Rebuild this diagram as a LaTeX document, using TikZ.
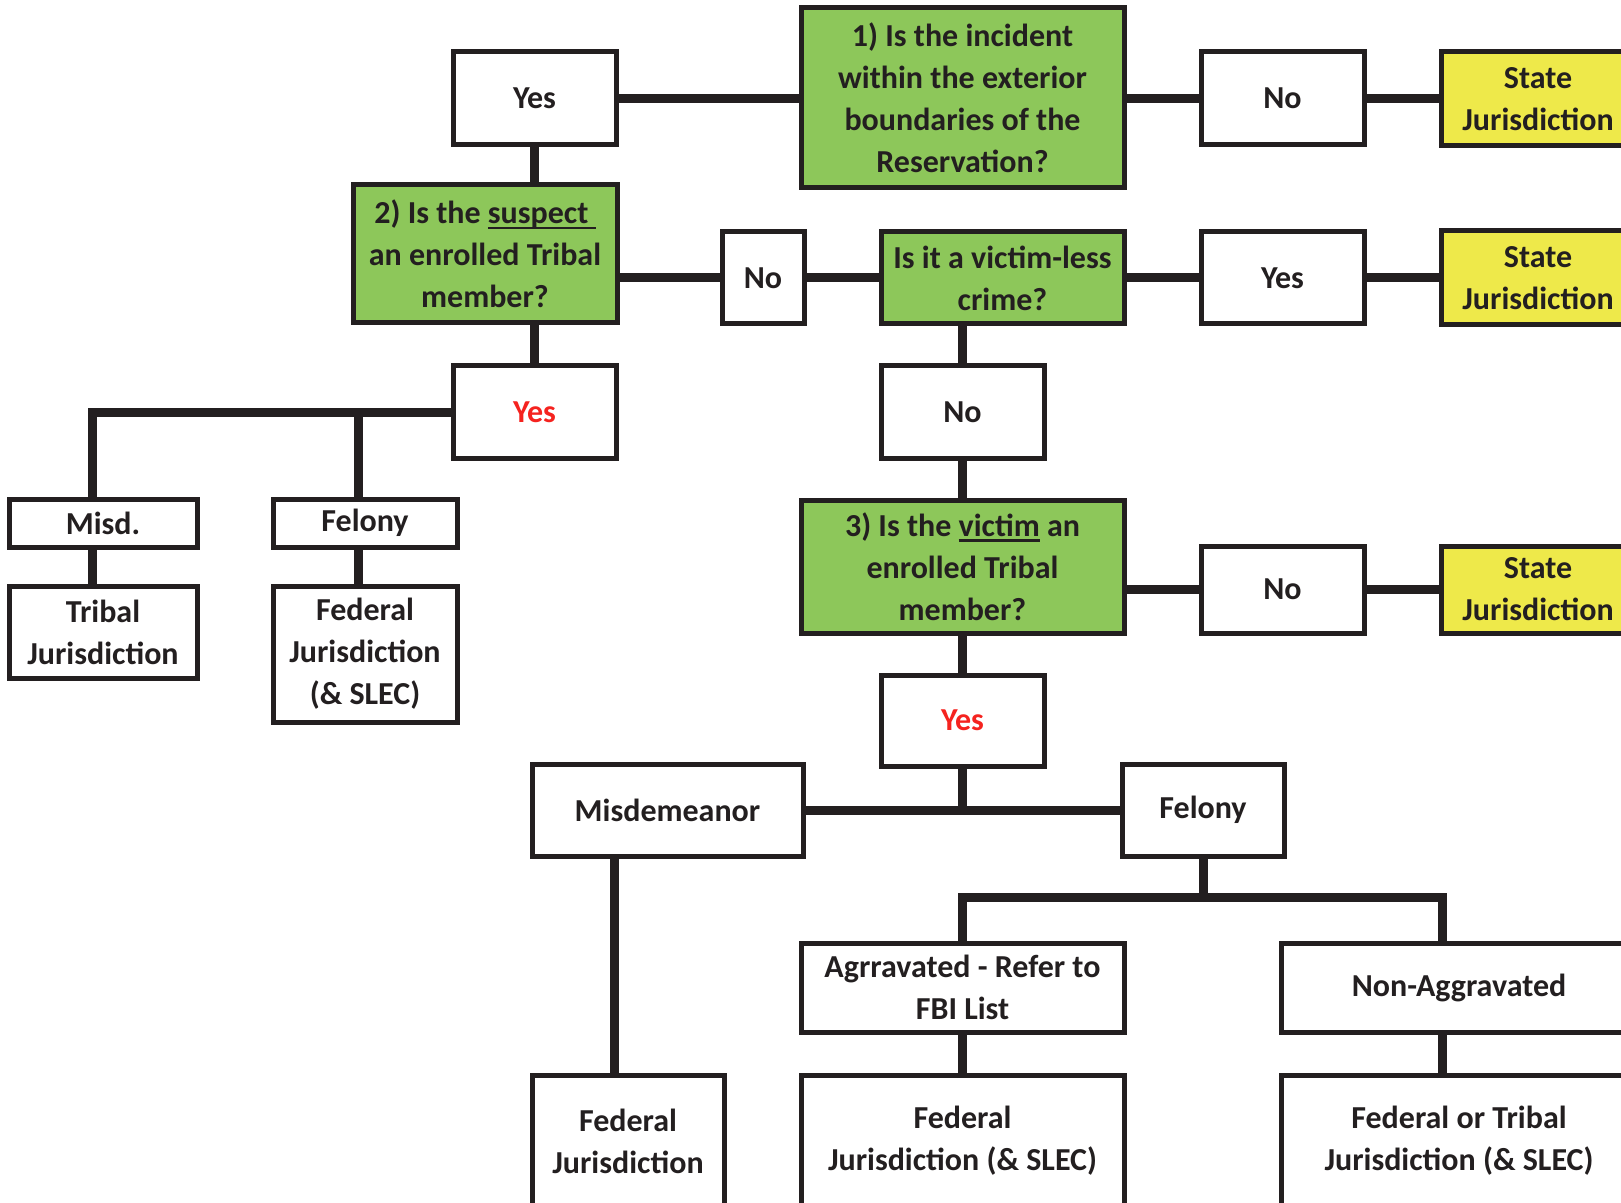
\documentclass[tikz,border=0pt]{standalone}
\usepackage{fontspec}
\setmainfont{Carlito}
\definecolor{ink}{HTML}{231F20}
\definecolor{qgreen}{HTML}{8DC75A}
\definecolor{syellow}{HTML}{EEE94A}
\definecolor{yesred}{HTML}{F5231F}
\newlength\myulw
\newcommand\myul[1]{\settowidth{\myulw}{#1}\makebox[0pt][l]{#1}\smash{\raisebox{-2.8pt}{\rule{\myulw}{1.2pt}}}}
\begin{document}
\begin{tikzpicture}[x=0.5pt,y=-0.5pt,
  box/.style={draw=ink,line width=2.5pt,fill=white,inner sep=0pt,align=center,text=ink,
    font=\fontsize{16}{21}\selectfont\bfseries},
  qbox/.style={box,fill=qgreen},
  sbox/.style={box,fill=syellow},
  conn/.style={draw=ink,line width=4.5pt}]
\clip (0,0) rectangle (1621,1203);
\fill[white] (0,0) rectangle (1621,1203);
% row 1
\node[qbox,minimum width=161.5pt,minimum height=90pt] (n1) at (962.5,98) {1) Is the incident\\within the exterior\\boundaries of the\\Reservation?};
\node[box,minimum width=81.5pt,minimum height=46.5pt] (yes1) at (534.5,98.5) {Yes};
\node[box,minimum width=81.5pt,minimum height=46.5pt] (no1) at (1282.5,98.5) {No};
\node[sbox,minimum width=97pt,minimum height=47pt] (st1) at (1538,99) {State\\Jurisdiction};
% row 2
\node[qbox,minimum width=132pt,minimum height=69pt] (n2) at (485,254) {2) Is the \myul{suspect\ }\\an enrolled Tribal\\member?};
\node[box,minimum width=41pt,minimum height=46pt] (no2) at (763,278) {No};
\node[qbox,minimum width=121.5pt,minimum height=46pt] (vl) at (1002.5,278) {Is it a victim-less\\crime?};
\node[box,minimum width=81.5pt,minimum height=46pt] (yes2) at (1282.5,278) {Yes};
\node[sbox,minimum width=97pt,minimum height=47pt] (st2) at (1538,278) {State\\Jurisdiction};
% row 3
\node[box,minimum width=81.5pt,minimum height=46pt,text=yesred] (yesR) at (534.5,412) {Yes};
\node[box,minimum width=81.5pt,minimum height=46pt] (no3) at (962.5,412) {No};
\node[box,minimum width=94pt,minimum height=24pt] (misd) at (103,523) {Misd.};
\node[box,minimum width=92pt,minimum height=24pt] (fel1) at (365,523) {Felony};
\node[box,minimum width=94pt,minimum height=46pt] (trib) at (103,632) {Tribal\\Jurisdiction};
\node[box,minimum width=92pt,minimum height=68pt] (fed1) at (365,654) {Federal\\Jurisdiction\\(\& SLEC)};
% row 4
\node[qbox,minimum width=161.5pt,minimum height=66.5pt] (n3) at (962.5,566.5) {3) Is the \myul{victim} an\\enrolled Tribal\\member?};
\node[box,minimum width=81.5pt,minimum height=43.5pt] (no4) at (1282.5,589.5) {No};
\node[sbox,minimum width=97pt,minimum height=43.5pt] (st3) at (1538,589.5) {State\\Jurisdiction};
\node[box,minimum width=81.5pt,minimum height=45.5pt,text=yesred] (yes3) at (962.5,720.5) {Yes};
\node[box,minimum width=135.5pt,minimum height=46pt] (misd2) at (667.5,810) {Misdemeanor};
\node[box,minimum width=81pt,minimum height=46pt] (fel2) at (1203,810) {Felony};
\node[box,minimum width=161.5pt,minimum height=44.5pt] (agg) at (962.5,987.5) {Agrravated - Refer to\\FBI List};
\node[box,minimum width=178pt,minimum height=44.5pt] (nonagg) at (1459,987.5) {Non-Aggravated};
\node[box,minimum width=96pt,minimum height=66pt] (fed2) at (628,1141) {Federal\\Jurisdiction};
\node[box,minimum width=161.5pt,minimum height=66pt] (fed3) at (962.5,1141) {Federal\\Jurisdiction (\& SLEC)};
\node[box,minimum width=178pt,minimum height=66pt] (fedtrib) at (1459,1141) {Federal or Tribal\\Jurisdiction (\& SLEC)};
% helper coordinates
\coordinate (bx1) at (92,412);
\coordinate (bx2) at (358,412);
\coordinate (mx) at (614,0);
\coordinate (fy) at (0,897);
\coordinate (nx) at (1442,0);
% connectors
\draw[conn] (yes1.east) -- (yes1.east -| n1.west);
\draw[conn] (n1.east |- no1) -- (no1.west);
\draw[conn] (no1.east) -- (st1.west |- no1);
\draw[conn] (yes1.south) -- (yes1.south |- n2.north);
\draw[conn] (n2.east |- no2) -- (no2.west);
\draw[conn] (no2.east) -- (vl.west |- no2);
\draw[conn] (vl.east) -- (yes2.west |- vl);
\draw[conn] (yes2.east) -- (st2.west |- yes2);
\draw[conn] (n2.south -| yesR) -- (yesR.north);
\draw[conn] (yesR.west) -- (yesR.west -| bx1) -- (bx1 |- misd.north);
\draw[conn] (yesR.west -| bx2) -- (bx2 |- fel1.north);
\draw[conn] (bx1 |- misd.south) -- (bx1 |- trib.north);
\draw[conn] (bx2 |- fel1.south) -- (bx2 |- fed1.north);
\draw[conn] (no3.north) -- (no3.north |- vl.south);
\draw[conn] (no3.south) -- (no3.south |- n3.north);
\draw[conn] (n3.east |- no4) -- (no4.west);
\draw[conn] (no4.east) -- (st3.west |- no4);
\draw[conn] (n3.south -| yes3) -- (yes3.north);
\draw[conn] (misd2.east) -- (fel2.west |- misd2);
\draw[conn] (yes3.south) -- (yes3.south |- misd2.east);
\draw[conn] (fel2.south) -- (fel2.south |- fy);
\draw[conn] (agg.north) -- (agg.north |- fy) -- (nx |- fy) -- (nx |- nonagg.north);
\draw[conn] (mx |- misd2.south) -- (mx |- fed2.north);
\draw[conn] (agg.south) -- (fed3.north);
\draw[conn] (nx |- nonagg.south) -- (nx |- fedtrib.north);
\end{tikzpicture}
\end{document}
